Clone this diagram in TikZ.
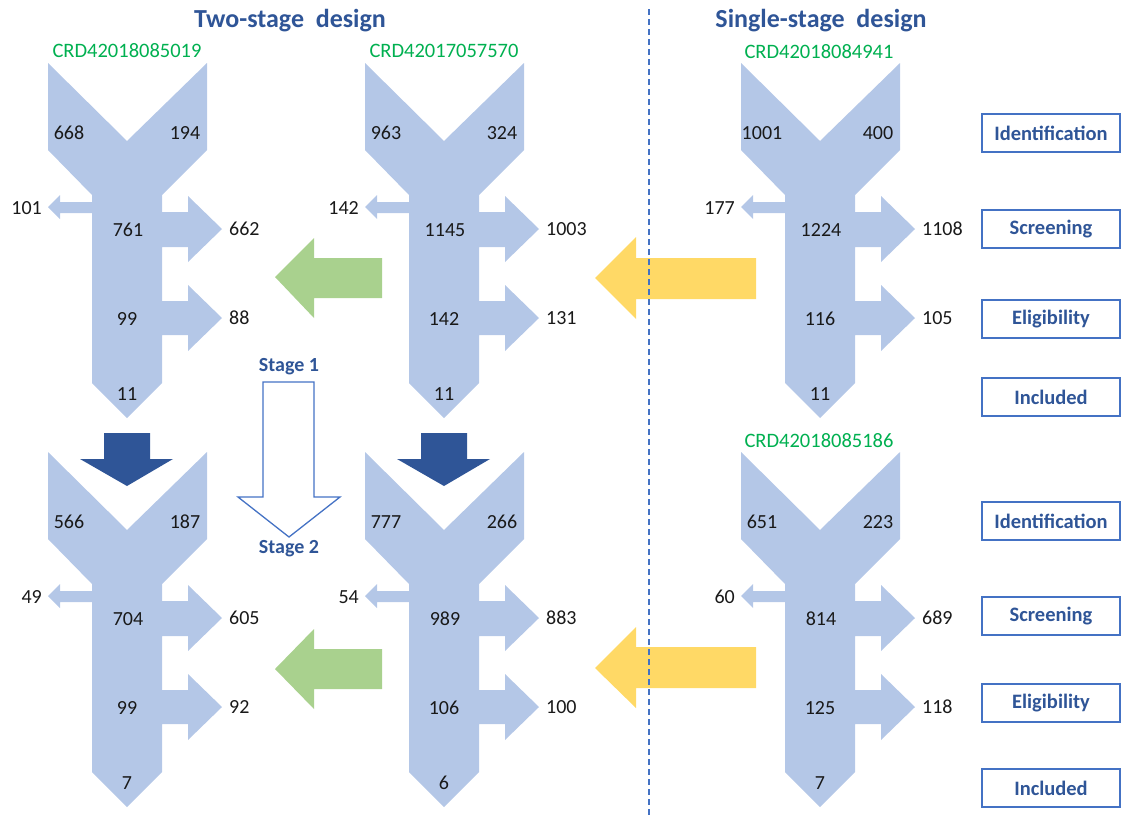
\documentclass[tikz,border=0pt]{standalone}
\usepackage{fontspec}
\setmainfont{Carlito}
\definecolor{funnelc}{HTML}{B4C7E7}
\definecolor{darkb}{HTML}{2F5597}
\definecolor{boxb}{HTML}{4472C4}
\definecolor{greenc}{HTML}{A9D18E}
\definecolor{yellowc}{HTML}{FFD966}
\definecolor{crdg}{HTML}{00B050}
\newcommand{\drawfunnel}[2]{%
\fill[funnelc] ({#1-79},{#2}) -- ({#1},{#2+78}) -- ({#1+80},{#2}) -- ({#1+80},{#2+87}) -- ({#1+35},{#2+132})
 -- ({#1+35},{#2+149}) -- ({#1+61},{#2+149}) -- ({#1+61},{#2+133}) -- ({#1+95},{#2+166}) -- ({#1+61},{#2+199}) -- ({#1+61},{#2+184}) -- ({#1+35},{#2+184})
 -- ({#1+35},{#2+238}) -- ({#1+61},{#2+238}) -- ({#1+61},{#2+222}) -- ({#1+95},{#2+255}) -- ({#1+61},{#2+288}) -- ({#1+61},{#2+272}) -- ({#1+35},{#2+272})
 -- ({#1+35},{#2+320}) -- ({#1},{#2+355}) -- ({#1-35},{#2+320})
 -- ({#1-35},{#2+150}) -- ({#1-67},{#2+150}) -- ({#1-67},{#2+156}) -- ({#1-79},{#2+144}) -- ({#1-67},{#2+132}) -- ({#1-67},{#2+139}) -- ({#1-35},{#2+139})
 -- ({#1-35},{#2+132}) -- ({#1-79},{#2+87}) -- cycle;}
\tikzset{
  num/.style={font=\fontsize{20}{22}\selectfont, text=black!90, inner sep=0pt},
  crd/.style={font=\fontsize{20.5}{22}\selectfont, text=crdg, inner sep=0pt},
  ttl/.style={font=\fontsize{26}{28}\selectfont\bfseries, text=darkb, inner sep=0pt},
  stagelbl/.style={font=\fontsize{20}{22}\selectfont\bfseries, text=darkb, inner sep=0pt},
  phase/.style={draw=boxb, line width=1.2pt, minimum width=138pt, minimum height=38pt, inner sep=0pt,
    font=\fontsize{20.5}{22}\selectfont\bfseries, text=darkb},
}
\begin{document}
\begin{tikzpicture}[x=1pt,y=-1pt]
\useasboundingbox (0,0) rectangle (1121,817);
% funnels
\drawfunnel{127}{63}
\drawfunnel{444}{63}
\drawfunnel{820}{63}
\drawfunnel{127}{452}
\drawfunnel{444}{452}
\drawfunnel{820}{452}
% funnel labels
\foreach \p/\cx/\ty/\a/\b/\c/\d/\e/\f/\g/\h in {
  fa/127/63/668/194/101/761/662/99/88/11,
  fb/444/63/963/324/142/1145/1003/142/131/11,
  fc/820/63/1001/400/177/1224/1108/116/105/11,
  fd/127/452/566/187/49/704/605/99/92/7,
  fe/444/452/777/266/54/989/883/106/100/6,
  ff/820/452/651/223/60/814/689/125/118/7}{
  \node[num] (\p-l) at ({\cx-58},{\ty+70}) {\a};
  \node[num] (\p-r) at ({\cx+58},{\ty+70}) {\b};
  \node[num, anchor=east] (\p-x) at ({\cx-85},{\ty+145}) {\c};
  \node[num] (\p-s) at ({\cx+1},{\ty+167}) {\d};
  \node[num, anchor=west] (\p-sx) at ({\cx+102},{\ty+166}) {\e};
  \node[num] (\p-e) at ({\cx},{\ty+256}) {\f};
  \node[num, anchor=west] (\p-ex) at ({\cx+102},{\ty+255}) {\g};
  \node[num] (\p-i) at ({\cx},{\ty+331}) {\h};
}
% CRD ids
\node[crd] (crd1) at (127,51) {CRD42018085019};
\node[crd] (crd2) at (444,51) {CRD42017057570};
\node[crd] (crd3) at (819,52) {CRD42018084941};
\node[crd] (crd4) at (819,441) {CRD42018085186};
% titles
\node[ttl] (t1) at (290,21) {Two-stage\ \ design};
\node[ttl] (t2) at (821,21) {Single-stage\ \ design};
% dark blue arrows
\fill[darkb] (104,433) -- (150,433) -- (150,459) -- (173,459) -- (127,486) -- (80,459) -- (104,459) -- cycle;
\fill[darkb] (421,433) -- (467,433) -- (467,459) -- (490,459) -- (444,486) -- (397,459) -- (421,459) -- cycle;
% stage arrow
\draw[boxb, line width=1.3pt, line join=miter] (263,382) -- (314,382) -- (314,497) -- (340,497) -- (289,537) -- (238,497) -- (263,497) -- cycle;
\node[stagelbl] (s1) at (289,367) {Stage 1};
\node[stagelbl] (s2) at (289,549) {Stage 2};
% green arrows
\fill[greenc] (275,277) -- (314,238) -- (314,258) -- (382,258) -- (382,298) -- (314,298) -- (314,318) -- cycle;
\fill[greenc] (275,669) -- (314,629) -- (314,649) -- (382,649) -- (382,689) -- (314,689) -- (314,709) -- cycle;
% yellow arrows
\fill[yellowc] (595,278) -- (636,237) -- (636,258) -- (756,258) -- (756,299) -- (636,299) -- (636,319) -- cycle;
\fill[yellowc] (595,668) -- (636,627) -- (636,647) -- (756,647) -- (756,688) -- (636,688) -- (636,708) -- cycle;
% dashed divider
\coordinate (dtop) at (649,9);
\coordinate (dbot) at (649,817);
\draw[boxb, line width=1.2pt, dash pattern=on 6pt off 4pt] (dtop) -- (dbot);
% phase boxes
\node[phase] (p1) at (1051,133) {Identification};
\node[phase] (p2) at (1051,229) {Screening};
\node[phase] (p3) at (1051,319) {Eligibility};
\node[phase] (p4) at (1051,397) {Included};
\node[phase] (p5) at (1051,521) {Identification};
\node[phase] (p6) at (1051,616) {Screening};
\node[phase] (p7) at (1051,703) {Eligibility};
\node[phase] (p8) at (1051,788) {Included};
\end{tikzpicture}
\end{document}
